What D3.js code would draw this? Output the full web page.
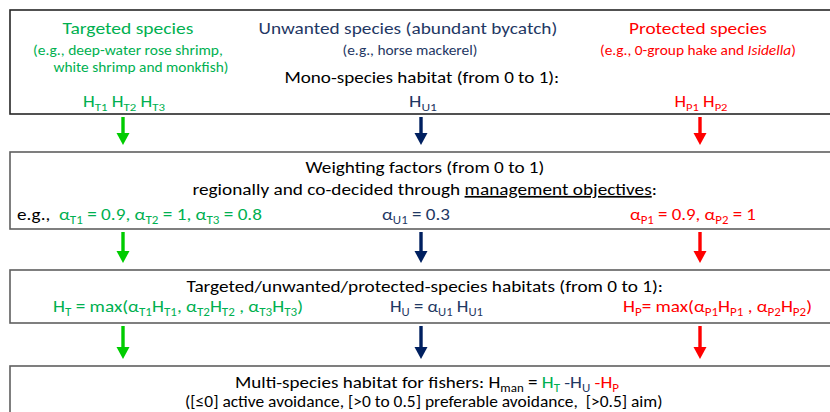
<!DOCTYPE html>
<html>
<head>
<meta charset="utf-8">
<script src="https://cdn.jsdelivr.net/npm/d3@7"></script>
<style>
  html, body { margin: 0; padding: 0; background: #fff; overflow: hidden; }
  svg text { font-family: Calibri, Carlito, "Open Sans", sans-serif; white-space: pre; }
</style>
</head>
<body>
<svg id="chart" width="830" height="412"></svg>
<script>
'use strict';

// species groups and their content
var groups = ['T', 'U', 'P'];
var groupNames = ['Targeted species', 'Unwanted species (abundant bycatch)', 'Protected species'];
var groupExamples = [
    ['(e.g., deep-water rose shrimp,', 'white shrimp and monkfish)'],
    ['(e.g., horse mackerel)'],
    ['(e.g., 0-group hake and ', 'Isidella', ')']
];
var habitatIds = [['T1', 'T2', 'T3'], ['U1'], ['P1', 'P2']];
var weights = [[0.9, 1, 0.8], [0.3], [0.9, 1]];
var stepTitles = [
    'Mono-species habitat (from 0 to 1):',
    'Weighting factors (from 0 to 1)',
    'Targeted/unwanted/protected-species habitats (from 0 to 1):',
    'Multi-species habitat for fishers: '
];
var weightNote = ['regionally and co-decided through ', 'management objectives', ':'];
var classes = '([≤0] active avoidance, [>0 to 0.5] preferable avoidance,  [>0.5] aim)';

var TEXT_COLOR = { T: '#00b050', U: '#1f3864', P: '#ff0000', K: '#000000' };
var ARROW_COLOR = { T: '#00cc00', U: '#002060', P: '#ff0000' };

var BOXES = [
    { top: 10, bottom: 114, stroke: '#262626' },
    { top: 152, bottom: 229, stroke: '#5f5f5f' },
    { top: 270, bottom: 323, stroke: '#5f5f5f' },
    { top: 366, bottom: 430, stroke: '#5f5f5f' }
];

var svg = d3.select('#chart');

var colX = d3.scaleOrdinal().domain(groups).range([123, 421, 700]);

// boxes
svg.selectAll('rect.box')
    .data(BOXES)
    .enter()
    .append('rect')
    .attr('class', 'box')
    .attr('x', 10)
    .attr('y', function(d) { return d.top; })
    .attr('width', 840)
    .attr('height', function(d) { return d.bottom - d.top; })
    .attr('fill', 'none')
    .attr('stroke', function(d) { return d.stroke; })
    .attr('stroke-width', 1.6);

// arrows between boxes
var arrows = [];
for (var i = 0; i < BOXES.length - 1; i++) {
    groups.forEach(function(g) {
        arrows.push({ g: g, y0: BOXES[i].bottom + 3, y1: BOXES[i + 1].top - 7 });
    });
}

var arrowG = svg.selectAll('g.arrow')
    .data(arrows)
    .enter()
    .append('g')
    .attr('class', 'arrow')
    .attr('fill', function(d) { return ARROW_COLOR[d.g]; });

arrowG.append('rect')
    .attr('x', function(d) { return colX(d.g) - 1.7; })
    .attr('y', function(d) { return d.y0; })
    .attr('width', 3.4)
    .attr('height', function(d) { return d.y1 - d.y0 - 10; });

arrowG.append('path')
    .attr('d', function(d) {
        var x = colX(d.g);
        return 'M' + (x - 6.5) + ',' + (d.y1 - 12) + 'L' + (x + 6.5) + ',' + (d.y1 - 12) + 'L' + x + ',' + d.y1 + 'Z';
    });

// rich text helpers
function seg(t, c, opt) {
    var s = { t: t, c: c || 'K' };
    if (opt) { for (var k in opt) s[k] = opt[k]; }
    return s;
}
function H(id, c) { return [seg('H', c), seg(id, c, { sub: true })]; }
function A(id, c) { return [seg('α', c), seg(id, c, { sub: true })]; }
function flat(arr) { return [].concat.apply([], arr); }

var lines = [];

// row 1
lines.push({ segs: [seg(groupNames[0], 'T')], x: 128, y: 34, fs: 17, w: 131 });
lines.push({ segs: [seg(groupExamples[0][0], 'T')], x: 128, y: 55, fs: 13.5, w: 190 });
lines.push({ segs: [seg(groupExamples[0][1], 'T')], x: 141, y: 72, fs: 13.5, w: 175 });
lines.push({ segs: [seg(groupNames[1], 'U')], x: 408, y: 34, fs: 17, w: 299 });
lines.push({ segs: [seg(groupExamples[1][0], 'U')], x: 410, y: 55, fs: 13.5, w: 135 });
lines.push({ segs: [seg(groupNames[2], 'P')], x: 698, y: 34, fs: 17, w: 138 });
lines.push({ segs: [seg(groupExamples[2][0], 'P'), seg(groupExamples[2][1], 'P', { it: true }), seg(groupExamples[2][2], 'P')], x: 698, y: 55, fs: 13.5, w: 196 });
lines.push({ segs: [seg(stepTitles[0])], x: 422, y: 83, fs: 17, w: 275 });

var monoX = [124, 423, 701], monoW = [82, 28, 53];
groups.forEach(function(g, gi) {
    var parts = [];
    habitatIds[gi].forEach(function(id, j) {
        if (j > 0) parts.push([seg(' ', g)]);
        parts.push(H(id, g));
    });
    lines.push({ segs: flat(parts), x: monoX[gi], y: 107, fs: 16, w: monoW[gi] });
});

// row 2
lines.push({ segs: [seg(stepTitles[1])], x: 425, y: 173, fs: 17, w: 239 });
lines.push({ segs: [seg(weightNote[0]), seg(weightNote[1], 'K', { u: true }), seg(weightNote[2])], x: 425, y: 195, fs: 17, w: 465 });

var wStart = [17, 382, 630], wWidth = [245, 68, 126];
groups.forEach(function(g, gi) {
    var parts = gi === 0 ? [[seg('e.g.,  ')]] : [];
    habitatIds[gi].forEach(function(id, j) {
        if (j > 0) parts.push([seg(', ', g)]);
        parts.push(A(id, g));
        parts.push([seg(' = ' + weights[gi][j], g)]);
    });
    lines.push({ segs: flat(parts), x: wStart[gi], y: 220, fs: 17, w: wWidth[gi], anchor: 'start' });
});

// row 3
lines.push({ segs: [seg(stepTitles[2])], x: 425, y: 292, fs: 17, w: 477 });
lines.push({
    segs: flat([H('T', 'T'), [seg(' = max(', 'T')], A('T1', 'T'), H('T1', 'T'), [seg(', ', 'T')],
        A('T2', 'T'), H('T2', 'T'), [seg(' , ', 'T')], A('T3', 'T'), H('T3', 'T'), [seg(')', 'T')]]),
    x: 53, y: 312, fs: 17, w: 250, anchor: 'start'
});
lines.push({
    segs: flat([H('U', 'U'), [seg(' = ', 'U')], A('U1', 'U'), [seg(' ', 'U')], H('U1', 'U')]),
    x: 390, y: 312, fs: 17, w: 93, anchor: 'start'
});
lines.push({
    segs: flat([H('P', 'P'), [seg('= max(', 'P')], A('P1', 'P'), H('P1', 'P'), [seg(' , ', 'P')],
        A('P2', 'P'), H('P2', 'P'), [seg(')', 'P')]]),
    x: 623, y: 312, fs: 17, w: 189, anchor: 'start'
});

// row 4
lines.push({
    segs: flat([[seg(stepTitles[3] + 'H')], [seg('man', 'K', { sub: true })], [seg(' = ')], H('T', 'T'),
        [seg(' -H', 'U')], [seg('U', 'U', { sub: true })], [seg(' -H', 'P')], [seg('P', 'P', { sub: true })]]),
    x: 427, y: 388, fs: 17, w: 384
});
lines.push({ segs: [seg(classes)], x: 424, y: 407, fs: 17, w: 478 });

var SUB_DY = 3.5;

var texts = svg.selectAll('text.line')
    .data(lines)
    .enter()
    .append('text')
    .attr('class', 'line')
    .style('font-size', function(d) { return d.fs + 'px'; })
    .each(function(d) {
        var el = d3.select(this);
        var inSub = false;
        d.segs.forEach(function(s) {
            var ts = el.append('tspan')
                .attr('fill', TEXT_COLOR[s.c])
                .text(s.t);
            if (s.sub && !inSub) { ts.attr('dy', SUB_DY); inSub = true; }
            else if (!s.sub && inSub) { ts.attr('dy', -SUB_DY); inSub = false; }
            if (s.sub) ts.style('font-size', (d.fs * 0.68) + 'px');
            if (s.it) ts.style('font-style', 'italic');
            if (s.u) ts.style('text-decoration', 'underline');
        });
    })
    .each(function(d) {
        // squeeze the line to the width it takes in the picture
        var natural = this.getComputedTextLength();
        var sx = d.w / natural;
        var left = d.anchor === 'start' ? d.x : d.x - d.w / 2;
        d3.select(this).attr('transform', 'translate(' + left + ',' + d.y + ') scale(' + sx + ',1)');
    });
</script>
</body>
</html>
